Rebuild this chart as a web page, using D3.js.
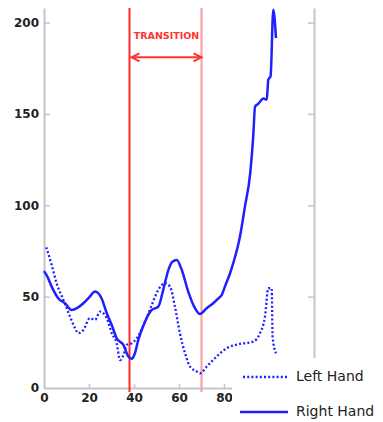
<!DOCTYPE html>
<html><head><meta charset="utf-8">
<script src="https://cdn.jsdelivr.net/npm/d3@7"></script>
<style>body{margin:0;background:#fff}svg{display:block}</style>
</head><body><svg id="c" width="383" height="422"></svg>
<script>
const rightX = [0,1.5,3.4,6.4,9.3,12.3,15,17.5,20,22.7,25.6,27.9,30.1,32.3,35.3,37.5,39,40.4,41.9,44.9,47.9,50.8,53,55.3,57,59,61.2,64.1,67.1,69.3,72.3,75.2,77.5,79,80.4,82.7,84.1,87.1,89.3,91.6,93,93.8,95.2,97.5,99,99.7,100.7,101.9,103.1];
const rightY = [64,61,55.5,49,46.4,42.7,44,46.4,49.5,52.8,49,40.9,34.5,27.2,23.6,17.2,16,19,26.3,36.3,42.7,44.5,53.7,64.7,69,70.1,64.7,52.8,43.7,40.5,43.7,46.4,49.1,51,55.5,62.8,68.3,82.9,99.3,117,138,154,155.5,158.4,157.8,168.8,170.6,207,191.6];
const leftX = [1,3.4,5.6,8.6,11.6,13.8,15.3,17.5,20.4,22.7,24.9,27.9,30.1,32.3,33.8,35.3,36.8,39,41.2,44.9,47.9,50.8,53.8,56,58.2,60.4,62.7,64.9,67.9,69.3,72.3,76.7,81.2,87.1,93,96,98.2,99.7,101.2,101.6,103.1];
const leftY = [77,67.4,57.4,48.2,39,32.7,30,31.8,38.2,37.3,41.8,38.2,30,24.5,15.3,18,23.6,24.5,27.2,36.3,45.5,53.7,57.4,55.5,44.5,30,19,11.7,9,8,11.7,17.2,21.8,24.1,25.4,30,39,54.6,54.6,28,19];
const xTicks = [0,20,40,60,80];
const yTicks = [0,50,100,150,200];
const transitionStart = 38, transitionEnd = 70;
const transitionLabel = "TRANSITION";
const seriesNames = ["Left Hand","Right Hand"];

const svg = d3.select("#c");
const x = d3.scaleLinear().domain([0,120]).range([44,314]);
const y = d3.scaleLinear().domain([0,208]).range([388,8]);
const axisColor = "#c6c6c6";
const font = "DejaVu Sans, Verdana, sans-serif";

const gl = svg.append("g").attr("transform",`translate(${x(0)},0)`)
  .call(d3.axisLeft(y).tickValues(yTicks).tickSizeInner(-6).tickSizeOuter(0).tickPadding(5));
const gb = svg.append("g").attr("transform",`translate(0,${y(0)})`)
  .call(d3.axisBottom(x).tickValues(xTicks).tickSizeInner(-4).tickSizeOuter(0).tickPadding(5));
const gr = svg.append("g").attr("transform",`translate(${x(120)},0)`)
  .call(d3.axisRight(y).tickValues(yTicks).tickSizeInner(-6).tickSizeOuter(0).tickFormat(""));
[gl,gb,gr].forEach(g=>{
  g.select(".domain").attr("stroke",axisColor).attr("stroke-width",2);
  g.selectAll(".tick line").attr("stroke",axisColor).attr("stroke-width",1.5);
  g.selectAll(".tick text").attr("fill","#222").style("font-family",font).style("font-size","12px").style("font-weight","bold");
});

svg.append("line").attr("x1",x(transitionStart)).attr("x2",x(transitionStart)).attr("y1",y(208)).attr("y2",392)
  .attr("stroke","#ff2a2a").attr("stroke-width",2);
svg.append("line").attr("x1",x(transitionEnd)).attr("x2",x(transitionEnd)).attr("y1",y(208)).attr("y2",392)
  .attr("stroke","#ff9a9a").attr("stroke-width",2);
const ay = y(181);
const ax1 = x(transitionStart)+2, ax2 = x(transitionEnd);
svg.append("line").attr("x1",ax1).attr("x2",ax2).attr("y1",ay).attr("y2",ay).attr("stroke","#ff3333").attr("stroke-width",2);
svg.append("path").attr("d",`M${ax1+8},${ay-4}L${ax1},${ay}L${ax1+8},${ay+4}`).attr("fill","none").attr("stroke","#ff3333").attr("stroke-width",2);
svg.append("path").attr("d",`M${ax2-8},${ay-4}L${ax2},${ay}L${ax2-8},${ay+4}`).attr("fill","none").attr("stroke","#ff3333").attr("stroke-width",2);
svg.append("text").attr("x",(x(transitionStart)+x(transitionEnd))/2+1).attr("y",38.5).attr("text-anchor","middle")
  .attr("fill","#ff3333").style("font-family",font).style("font-size","9.5px").style("font-weight","bold").text(transitionLabel);

const line = d3.line().x(d=>x(d[0])).y(d=>y(d[1])).curve(d3.curveMonotoneX);
const leftData = leftX.map((v,i)=>[v,leftY[i]]);
const rightData = rightX.map((v,i)=>[v,rightY[i]]);
svg.append("path").datum(leftData).attr("d",line).attr("fill","none").attr("stroke","#1f1fff").attr("stroke-width",2.3).attr("stroke-dasharray","2,2.2");
svg.append("path").datum(rightData).attr("d",line).attr("fill","none").attr("stroke","#1f1fff").attr("stroke-width",2.5).attr("stroke-linejoin","round");

svg.append("rect").attr("x",232).attr("y",358).attr("width",151).attr("height",64).attr("fill","#fff");
const lg = svg.append("g");
lg.append("line").attr("x1",243).attr("x2",287).attr("y1",377).attr("y2",377).attr("stroke","#1f1fff").attr("stroke-width",2.3).attr("stroke-dasharray","2,2.2");
lg.append("text").attr("x",296).attr("y",381).text(seriesNames[0]).attr("fill","#222").style("font-family",font).style("font-size","14px");
lg.append("line").attr("x1",240).attr("x2",288).attr("y1",412).attr("y2",412).attr("stroke","#1f1fff").attr("stroke-width",2.5);
lg.append("text").attr("x",296).attr("y",416).text(seriesNames[1]).attr("fill","#222").style("font-family",font).style("font-size","14px");
</script></body></html>
